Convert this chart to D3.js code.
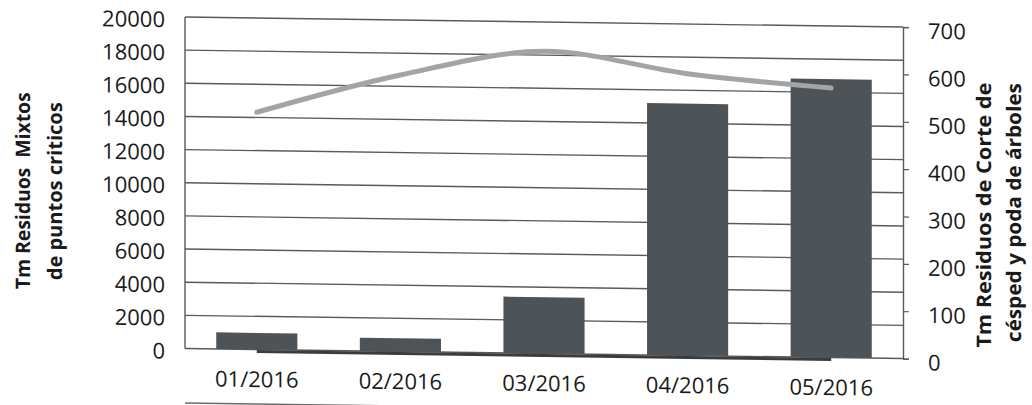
<!DOCTYPE html>
<html>
<head>
<meta charset="utf-8">
<script src="https://cdn.jsdelivr.net/npm/d3@7"></script>
<style>
  html, body { margin: 0; padding: 0; background: #fff; }
  svg { display: block; }
  text { font-family: "Open Sans", "Noto Sans", sans-serif; fill: #1a1a1a; white-space: pre; }
</style>
</head>
<body>
<svg id="chart" width="1032" height="405"></svg>
<script>
'use strict';

// data
const months = ['01/2016', '02/2016', '03/2016', '04/2016', '05/2016'];
const mixtos = [1000, 800, 3400, 15200, 16800];   // bars, left axis (Tm)
const cesped = [501, 584, 638, 595, 569];         // grey line, right axis (Tm)
const baseSerie = [0, 0, 0, 0, 0];                // dark line lying on the baseline
const leftTicks = [0, 2000, 4000, 6000, 8000, 10000, 12000, 14000, 16000, 18000, 20000];
const rightTicks = [0, 100, 200, 300, 400, 500, 600, 700];

const svg = d3.select('#chart');
const W = 1032, H = 405;
const x0 = 185, x1 = 903, yTop = 17, yBot = 348.5;

svg.append('rect').attr('width', W).attr('height', H).attr('fill', '#fff');

// the scan is slightly skewed: horizontals drop ~10px from left to right
const g = svg.append('g')
  .attr('transform', `translate(${x0},${yBot}) skewY(0.8) translate(${-x0},${-yBot})`);

const xScale = d3.scaleBand()
  .domain(months)
  .range([x0, x1])
  .paddingInner(0.435)
  .paddingOuter(0.2175);

const yLeft = d3.scaleLinear().domain([0, 20000]).range([yBot, yTop]);
const yRight = d3.scaleLinear().domain([0, 700]).range([yBot, yTop]);
const cx = (m) => xScale(m) + xScale.bandwidth() / 2;

// gridlines
g.append('g')
  .selectAll('line')
  .data(leftTicks)
  .join('line')
  .attr('x1', x0)
  .attr('x2', x1)
  .attr('y1', (d) => yLeft(d))
  .attr('y2', (d) => yLeft(d))
  .attr('stroke', '#5a5a5a')
  .attr('stroke-width', 1.4);

// frame sides
g.append('line')
  .attr('x1', x0).attr('x2', x0)
  .attr('y1', yTop).attr('y2', yBot)
  .attr('stroke', '#5a5a5a').attr('stroke-width', 1.4);

// bars
g.append('g')
  .selectAll('rect')
  .data(mixtos)
  .join('rect')
  .attr('x', (d, i) => xScale(months[i]))
  .attr('y', (d) => yLeft(d))
  .attr('width', xScale.bandwidth())
  .attr('height', (d) => yBot - yLeft(d))
  .attr('fill', '#4e5358');

// dark line on the baseline
const lineGen = d3.line()
  .x((d, i) => cx(months[i]))
  .y((d) => yRight(d));

g.append('path')
  .datum(baseSerie)
  .attr('d', lineGen.y((d) => yRight(d) + 2))
  .attr('fill', 'none')
  .attr('stroke', '#3a3d40')
  .attr('stroke-width', 3);

// smoothed grey line
g.append('path')
  .datum(cesped)
  .attr('d', d3.line()
    .x((d, i) => cx(months[i]))
    .y((d) => yRight(d))
    .curve(d3.curveCatmullRom.alpha(0.5)))
  .attr('fill', 'none')
  .attr('stroke', '#a2a4a6')
  .attr('stroke-width', 5)
  .attr('stroke-linecap', 'round');

// right axis
const rAxis = g.append('g')
  .attr('transform', `translate(${x1},0)`)
  .call(d3.axisRight(yRight).tickValues(rightTicks).tickSize(6).tickPadding(19));
rAxis.select('.domain').attr('stroke', '#5a5a5a').attr('stroke-width', 1.4);
rAxis.selectAll('.tick line').attr('stroke', '#5a5a5a').attr('stroke-width', 1.2);
rAxis.selectAll('.tick text')
  .attr('font-size', 22)
  .attr('font-family', '"Open Sans", sans-serif')
  .attr('fill', '#1a1a1a')
  .attr('dy', '0.5em');

// left axis labels (no ticks)
const lAxis = g.append('g')
  .attr('transform', `translate(${x0},0)`)
  .call(d3.axisLeft(yLeft).tickValues(leftTicks).tickFormat(d3.format('d')).tickSize(0).tickPadding(20));
lAxis.select('.domain').remove();
lAxis.selectAll('.tick text')
  .attr('font-size', 22)
  .attr('font-family', '"Open Sans", sans-serif')
  .attr('fill', '#1a1a1a')
  .attr('dy', '0.45em');

// category labels
const bAxis = g.append('g')
  .attr('transform', `translate(0,${yBot})`)
  .call(d3.axisBottom(xScale).tickSize(0).tickPadding(22));
bAxis.select('.domain').remove();
bAxis.selectAll('.tick text')
  .attr('font-size', 22)
  .attr('font-family', '"Open Sans", sans-serif')
  .attr('fill', '#1a1a1a');

// axis titles
const titles = [
  { x: 30, y: 193, len: 197, t: 'Tm Residuos  Mixtos' },
  { x: 62, y: 193, len: 178, t: 'de puntos criticos' },
  { x: 991, y: 204, len: 265, t: 'Tm Residuos de Corte de' },
  { x: 1021, y: 201, len: 259, t: 'césped y poda de árboles' },
];
g.append('g')
  .selectAll('text')
  .data(titles)
  .join('text')
  .attr('transform', (d) => `translate(${d.x},${d.y}) rotate(-90)`)
  .attr('text-anchor', 'middle')
  .attr('font-size', 20)
  .attr('font-weight', 'bold')
  .attr('textLength', (d) => d.len)
  .attr('lengthAdjust', 'spacingAndGlyphs')
  .text((d) => d.t);

// cut-off table border at the bottom edge
g.append('line')
  .attr('x1', x0).attr('x2', x1)
  .attr('y1', 403).attr('y2', 403)
  .attr('stroke', '#6a6a6a').attr('stroke-width', 1.5);
g.append('line')
  .attr('x1', 328).attr('x2', 328)
  .attr('y1', 403).attr('y2', 406)
  .attr('stroke', '#6a6a6a').attr('stroke-width', 1.5);
</script>
</body>
</html>
